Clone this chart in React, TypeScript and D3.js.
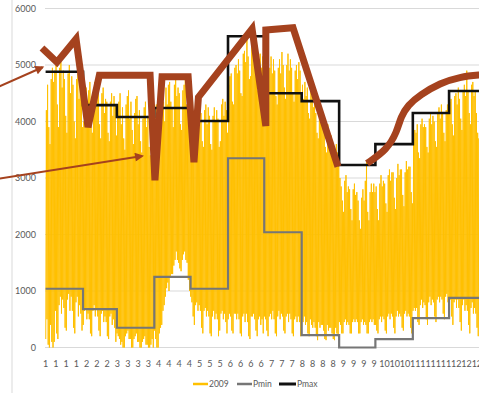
import React from "react";
import * as d3 from "d3";

const WIDTH = 479;
const HEIGHT = 393;

// Calendar of 2009
const monthDays = [31, 28, 31, 30, 31, 30, 31, 31, 30, 31, 30, 31];

// Monthly bounds (MW)
const pmaxMonthly = [4880, 4290, 4080, 4240, 4010, 5510, 4500, 4360, 3230, 3600, 4150, 4540];
const pminMonthly = [1040, 680, 350, 1250, 1040, 3350, 2040, 220, 0, 150, 520, 880];

// Category labels (month of every 204th hour)
const tickLabels = [
  "1", "1", "1", "1", "2", "2", "2", "3", "3", "3", "3", "4", "4", "4", "4",
  "5", "5", "5", "6", "6", "6", "6", "7", "7", "7", "8", "8", "8", "8",
  "9", "9", "9", "9", "10", "10", "10", "11", "11", "11", "11", "12", "12", "12",
];
const tickStepDays = 8.5;
const yTicks = [0, 1000, 2000, 3000, 4000, 5000, 6000];

// 2009 load: daily peak, one row per month (MW)
const dailyHigh: number[][] = [
  [4200, 4650, 3900, 3600, 4750, 4950, 4700, 4900, 5000, 4300, 3900, 4950, 5050, 4600, 4900, 4750, 4100, 3800, 4850, 5000, 4500, 4800, 4650, 4000, 3700, 4750, 4850, 4400, 4650, 4500, 3900],
  [4000, 4450, 4600, 4200, 4550, 4700, 4100, 3800, 4550, 4700, 4350, 4650, 4500, 3950, 3700, 4500, 4600, 4150, 4400, 4350, 3800, 3650, 4350, 4500, 4100, 4450, 4300, 3750],
  [4200, 4350, 4500, 3950, 4250, 3700, 3500, 4300, 4450, 4550, 4050, 4350, 3850, 3600, 4150, 4400, 4450, 3950, 4200, 3650, 3450, 4050, 4250, 4350, 3900, 4100, 3550, 3400, 4000, 4250, 3950],
  [4050, 4300, 3750, 3500, 4150, 4400, 4150, 4350, 4000, 4600, 4300, 4650, 4700, 4350, 4250, 3900, 4650, 4750, 4450, 4600, 4500, 3950, 3850, 4550, 4650, 4750, 4300, 4350, 3900, 3750],
  [4300, 4350, 3950, 3700, 4250, 4300, 4050, 4300, 4150, 3650, 3550, 4200, 4300, 3950, 4250, 4100, 3600, 3500, 4100, 4250, 4000, 4200, 4050, 3550, 3650, 4300, 4400, 4100, 4350, 4200, 3800],
  [4650, 4800, 4850, 4350, 4300, 4950, 5000, 4850, 5100, 4900, 4500, 4450, 5200, 5250, 5050, 5450, 5150, 4750, 4800, 5600, 5450, 5300, 5150, 4750, 4550, 5100, 5200, 4950, 5150, 4750],
  [4950, 5050, 4550, 4350, 4950, 5150, 4850, 5100, 4900, 4450, 4300, 4950, 5100, 4850, 5230, 5000, 4600, 4400, 5000, 5200, 4900, 5100, 4950, 4500, 4350, 4900, 5000, 4750, 5050, 4900, 4450],
  [4650, 4400, 4700, 4450, 4600, 4150, 4050, 4550, 4450, 4250, 4350, 4150, 3800, 3700, 4300, 4100, 3950, 4050, 3850, 3550, 3450, 3950, 3800, 3650, 3750, 3550, 3300, 3250, 3600, 3450, 3300],
  [3000, 2850, 2600, 2400, 2950, 3050, 2750, 2850, 2800, 2450, 2250, 2800, 2900, 2700, 2750, 2600, 2250, 2100, 2650, 2800, 2600, 2950, 3300, 2400, 2250, 2750, 2900, 2750, 2900, 2750],
  [2850, 2450, 2250, 2900, 3050, 2850, 2950, 2900, 2550, 2400, 3050, 3150, 2950, 3100, 3100, 2650, 2450, 3000, 3250, 3050, 3150, 3150, 2700, 2500, 3100, 3300, 3150, 3200, 3200, 2750, 2550],
  [3700, 3850, 3800, 3950, 3450, 3350, 3950, 4050, 3900, 3950, 3900, 3550, 3450, 4050, 4150, 3950, 4100, 4000, 3650, 3550, 4150, 4250, 4050, 4300, 4150, 3800, 3650, 4200, 4300, 4150],
  [4350, 4400, 3950, 3750, 4450, 4500, 4300, 4600, 4400, 4050, 3850, 4550, 4650, 4450, 4900, 4550, 4150, 3950, 4650, 4700, 4450, 4550, 4150, 3800, 3700, 4300, 4400, 4150, 4100, 3850, 3700],
];

// 2009 load: daily minimum, one row per month (MW)
const dailyLow: number[][] = [
  [150, 500, 50, 0, 400, 100, 0, 100, 650, 250, 150, 750, 900, 600, 850, 700, 350, 300, 850, 950, 650, 900, 650, 350, 250, 800, 900, 550, 750, 600, 300],
  [400, 650, 700, 500, 600, 500, 250, 200, 650, 750, 550, 700, 550, 300, 200, 600, 650, 450, 550, 450, 200, 150, 550, 600, 400, 500, 350, 100],
  [250, 200, 150, 50, 100, 0, 0, 200, 250, 300, 150, 150, 0, 0, 150, 200, 250, 100, 100, 0, 0, 100, 150, 200, 50, 50, 0, 0, 50, 150, 0],
  [300, 150, 0, 0, 250, 350, 400, 650, 750, 900, 1050, 1150, 1000, 1250, 1300, 1300, 1450, 1550, 1700, 1550, 1500, 1400, 1350, 1550, 1650, 1700, 1550, 1500, 1200, 1000],
  [900, 800, 550, 400, 750, 800, 650, 750, 650, 350, 250, 650, 700, 550, 650, 550, 250, 200, 550, 650, 500, 600, 500, 200, 300, 600, 650, 500, 600, 450, 250],
  [500, 600, 550, 300, 250, 600, 600, 500, 600, 500, 250, 200, 550, 600, 450, 600, 450, 200, 150, 550, 550, 600, 500, 300, 200, 500, 550, 400, 500, 250],
  [550, 500, 300, 200, 550, 600, 500, 650, 500, 250, 200, 550, 650, 500, 600, 550, 300, 250, 550, 600, 450, 600, 500, 250, 200, 500, 550, 450, 550, 450, 200],
  [500, 450, 550, 400, 450, 250, 200, 500, 400, 350, 450, 350, 200, 130, 450, 350, 400, 400, 300, 150, 130, 400, 300, 350, 350, 250, 150, 130, 350, 250, 200],
  [450, 400, 250, 250, 450, 500, 400, 450, 400, 250, 250, 450, 500, 450, 500, 450, 250, 250, 450, 500, 400, 450, 400, 250, 250, 450, 500, 450, 500, 400],
  [400, 300, 250, 500, 550, 450, 550, 500, 300, 250, 550, 600, 500, 600, 550, 350, 250, 550, 650, 550, 600, 550, 350, 300, 600, 650, 550, 600, 550, 350, 250],
  [650, 700, 650, 700, 450, 400, 750, 850, 700, 800, 750, 500, 400, 800, 900, 750, 850, 800, 550, 450, 850, 900, 800, 900, 850, 600, 500, 900, 950, 800],
  [800, 850, 550, 400, 800, 850, 700, 850, 700, 450, 300, 750, 850, 650, 750, 650, 400, 250, 700, 800, 600, 700, 600, 350, 200, 500, 600, 400, 450, 250, 200],
];

const seriesNames = ["2009", "Pmin", "Pmax"];

// Annotation sketch, in (day of year, MW)
const markupPath: [number, number][] = [
  [-3.0, 5300], [9.4, 5050], [25.2, 5460], [35.1, 3900], [44.5, 4820],
  [86.5, 4820], [90.5, 2960], [96.4, 4790], [118.0, 4790], [122.8, 3280],
  [126.5, 4430], [170.9, 5640], [182.3, 3920], [182.3, 5620], [204.8, 5660],
  [242.0, 3200],
];
const markupCurve: [number, number][] = [
  [266.1, 3260], [282.6, 3500], [290.9, 3820], [294.0, 4080], [300.0, 4290],
  [310.0, 4470], [326.5, 4680], [343.1, 4790], [358.9, 4825], [372.0, 4840],
];
const markupArrows: { from: [number, number]; to: [number, number] }[] = [
  { from: [-38.5, 4620], to: [-2.5, 4960] },
  { from: [-38.5, 2990], to: [80.0, 3390] },
];

const COLORS = {
  load: "#FFC000",
  pmin: "#767676",
  pmax: "#111111",
  markup: "#A5421E",
  grid: "#D9D9D9",
  text: "#595959",
};

const FONT = "Lato, 'Open Sans', 'Liberation Sans', sans-serif";

export default function App() {
  const x = d3.scaleLinear().domain([0, 365]).range([45.6, 45.6 + 365 * 1.208]);
  const y = d3.scaleLinear().domain([0, 6000]).range([347.5, 8.5]);

  const line = d3
    .line<[number, number]>()
    .x((d) => x(d[0]))
    .y((d) => y(d[1]));

  // first day of each month
  const monthStarts = d3.cumsum([0, ...monthDays.slice(0, -1)]);

  // daily swings of the load curve
  const highs = dailyHigh.flat();
  const lows = dailyLow.flat();
  const loadPts: [number, number][] = [];
  highs.forEach((h, d) => {
    loadPts.push([d + 0.15, lows[d]]);
    loadPts.push([d + 0.65, h]);
  });

  const stepLine = d3
    .line<[number, number]>()
    .x((d) => x(d[0]))
    .y((d) => y(d[1]))
    .curve(d3.curveStepAfter);
  const stepPts = (vals: number[]): [number, number][] => [
    ...vals.map((v, i) => [monthStarts[i], v] as [number, number]),
    [365, vals[vals.length - 1]],
  ];

  const curveLine = d3
    .line<[number, number]>()
    .x((d) => x(d[0]))
    .y((d) => y(d[1]))
    .curve(d3.curveBasis);

  const legendItems = [
    { name: seriesNames[0], color: COLORS.load, x0: 193, x1: 208, w: 2.5 },
    { name: seriesNames[1], color: COLORS.pmin, x0: 237, x1: 252, w: 2.5 },
    { name: seriesNames[2], color: COLORS.pmax, x0: 279, x1: 296, w: 3 },
  ];

  return (
    <svg
      width={WIDTH}
      height={HEIGHT}
      style={{ position: "absolute", left: 0, top: 0, display: "block", background: "#fff" }}
      fontFamily={FONT}
    >
      <defs>
        <marker
          id="arrowHead"
          viewBox="0 0 10 10"
          refX="8"
          refY="5"
          markerWidth="5"
          markerHeight="4.5"
          orient="auto"
        >
          <path d="M0,0 L10,5 L0,10 z" fill={COLORS.markup} />
        </marker>
      </defs>

      {/* chart frame edge */}
      <line x1={12} x2={12} y1={0} y2={HEIGHT} stroke={COLORS.grid} strokeWidth={1} />

      {/* gridlines */}
      {yTicks.map((t) => (
        <line
          key={t}
          x1={45}
          x2={WIDTH}
          y1={y(t)}
          y2={y(t)}
          stroke={COLORS.grid}
          strokeWidth={1}
        />
      ))}

      {/* y axis labels */}
      {yTicks.map((t) => (
        <text
          key={"yl" + t}
          x={36}
          y={y(t)}
          dy="0.35em"
          textAnchor="end"
          fontSize={9}
          fill={COLORS.text}
        >
          {t}
        </text>
      ))}

      {/* x axis labels */}
      {tickLabels.map((l, k) => (
        <text
          key={"xl" + k}
          x={x(k * tickStepDays)}
          y={366.5}
          textAnchor="middle"
          fontSize={9}
          fill={COLORS.text}
        >
          {l}
        </text>
      ))}

      <g>
        <path d={line(loadPts) ?? ""} fill="none" stroke={COLORS.load} strokeWidth={1} />
        <path
          d={stepLine(stepPts(pminMonthly)) ?? ""}
          fill="none"
          stroke={COLORS.pmin}
          strokeWidth={2.2}
        />
        <path
          d={stepLine(stepPts(pmaxMonthly)) ?? ""}
          fill="none"
          stroke={COLORS.pmax}
          strokeWidth={2.6}
        />

        {/* hand-drawn markup */}
        <path
          d={line(markupPath) ?? ""}
          fill="none"
          stroke={COLORS.markup}
          strokeWidth={7}
          strokeLinejoin="miter"
          strokeMiterlimit={3}
        />
        <path
          d={curveLine(markupCurve) ?? ""}
          fill="none"
          stroke={COLORS.markup}
          strokeWidth={7}
        />
        {markupArrows.map((a, i) => (
          <line
            key={"ar" + i}
            x1={x(a.from[0])}
            y1={y(a.from[1])}
            x2={x(a.to[0])}
            y2={y(a.to[1])}
            stroke={COLORS.markup}
            strokeWidth={2}
            markerEnd="url(#arrowHead)"
          />
        ))}
      </g>

      {/* legend */}
      {legendItems.map((it) => (
        <g key={it.name}>
          <line x1={it.x0} x2={it.x1} y1={384} y2={384} stroke={it.color} strokeWidth={it.w} />
          <text x={it.x1 + 1} y={384} dy="0.35em" fontSize={8.5} fill={COLORS.text}>
            {it.name}
          </text>
        </g>
      ))}
    </svg>
  );
}
